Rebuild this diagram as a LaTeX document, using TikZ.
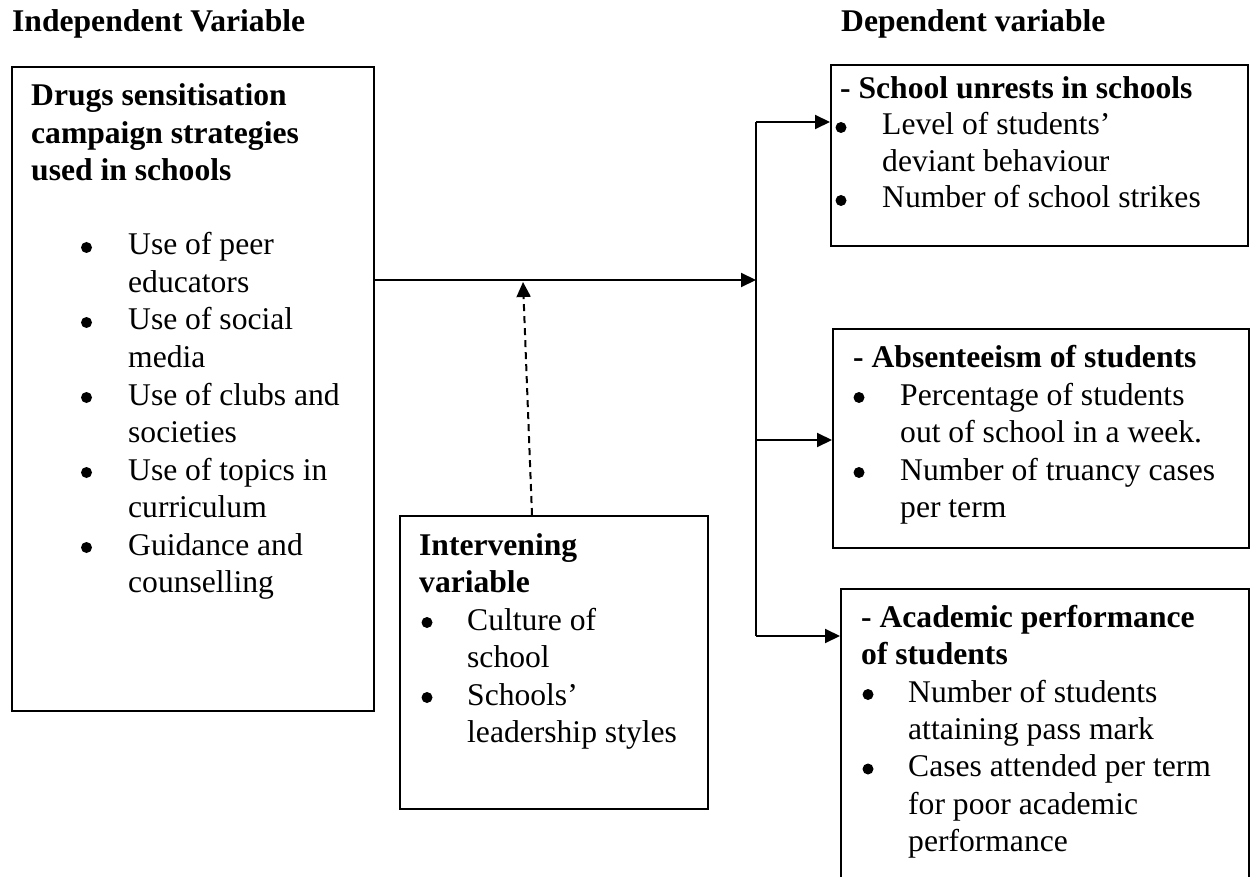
\documentclass[tikz,border=0pt]{standalone}
\usepackage{fontspec}
\setmainfont{Liberation Serif}
\usetikzlibrary{arrows.meta}
\tikzset{
  txt/.style={anchor=base west, inner sep=0pt, font=\fontsize{31.6}{37.5}\selectfont},
  btxt/.style={txt, font=\fontsize{31.6}{37.5}\selectfont\bfseries},
  bulc/.style={circle, fill=black, inner sep=0pt, minimum size=11pt},
  box/.style={draw, line width=2pt, anchor=north west, inner sep=0pt},
  conn/.style={line width=2pt},
  arr/.style={line width=2pt, -{Triangle[length=15pt,width=14pt]}},
  darr/.style={line width=2pt, dash pattern=on 7pt off 5pt, -{Triangle[length=15pt,width=14pt]}}
}
\begin{document}
\begin{tikzpicture}[x=1pt,y=-1pt]
\useasboundingbox (0,0) rectangle (1258,877);
% headings
\node[btxt] (hI) at (12,32) {Independent Variable};
\node[btxt] (hD) at (841,32) {Dependent variable};
% boxes
\node[box, minimum width=362pt, minimum height=644pt] (indep) at (11,66) {};
\node[box, minimum width=308pt, minimum height=293pt] (interv) at (399,515) {};
\node[box, minimum width=417pt, minimum height=181pt] (dep1) at (830,64) {};
\node[box, minimum width=416pt, minimum height=219pt] (dep2) at (832,328) {};
\node[box, minimum width=408pt, minimum height=300pt] (dep3) at (840,588) {};
% independent box text
\node[btxt] (i1) at (31,106) {Drugs sensitisation};
\node[btxt] (i2) at (31,143.5) {campaign strategies};
\node[btxt] (i3) at (31,181) {used in schools};
\node[bulc] (ib1) at (86.5,247.5) {};
\node[bulc] (ib2) at (86.5,322.5) {};
\node[bulc] (ib3) at (86.5,397.5) {};
\node[bulc] (ib4) at (86.5,472.5) {};
\node[bulc] (ib5) at (86.5,547.5) {};
\node[txt] (it1) at (128,255) {Use of peer};
\node[txt] (it2) at (128,292.5) {educators};
\node[txt] (it3) at (128,330) {Use of social};
\node[txt] (it4) at (128,367.5) {media};
\node[txt] (it5) at (128,405) {Use of clubs and};
\node[txt] (it6) at (128,442.5) {societies};
\node[txt] (it7) at (128,480) {Use of topics in};
\node[txt] (it8) at (128,517.5) {curriculum};
\node[txt] (it9) at (128,555) {Guidance and};
\node[txt] (it10) at (128,592.5) {counselling};
% intervening box text
\node[btxt] (v1) at (419,555) {Intervening};
\node[btxt] (v2) at (419,592.5) {variable};
\node[bulc] (vb1) at (427,622.5) {};
\node[bulc] (vb2) at (427,697.5) {};
\node[txt] (vt1) at (467,630) {Culture of};
\node[txt] (vt2) at (467,667.5) {school};
\node[txt] (vt3) at (467,705) {Schools’};
\node[txt] (vt4) at (467,742.5) {leadership styles};
% dependent 1
\node[btxt] (a1) at (840,99) {- School unrests in schools};
\node[bulc] (ab1) at (841,127.5) {};
\node[bulc] (ab2) at (841,200.5) {};
\node[txt] (at1) at (882,135) {Level of students’};
\node[txt] (at2) at (882,171.5) {deviant behaviour};
\node[txt] (at3) at (882,208) {Number of school strikes};
% dependent 2
\node[btxt] (b1) at (853,367) {- Absenteeism of students};
\node[bulc] (bb1) at (859,397.5) {};
\node[bulc] (bb2) at (859,472.5) {};
\node[txt] (bt1) at (900,405) {Percentage of students};
\node[txt] (bt2) at (900,442.5) {out of school in a week.};
\node[txt] (bt3) at (900,480) {Number of truancy cases};
\node[txt] (bt4) at (900,517.5) {per term};
% dependent 3
\node[btxt] (c1) at (861,627) {- Academic performance};
\node[btxt] (c2) at (861,664) {of students};
\node[bulc] (cb1) at (868,694.5) {};
\node[bulc] (cb2) at (868,769) {};
\node[txt] (ct1) at (908,702) {Number of students};
\node[txt] (ct2) at (908,739) {attaining pass mark};
\node[txt] (ct3) at (908,776.5) {Cases attended per term};
\node[txt] (ct4) at (908,814) {for poor academic};
\node[txt] (ct5) at (908,851) {performance};
% connectors
\coordinate (hub) at (756,280);
\coordinate (vtop) at (756,122);
\coordinate (vmid) at (756,440);
\coordinate (vbot) at (756,636);
\coordinate (ds) at (532,515);
\coordinate (de) at (523,282);
\draw[arr] (indep.east |- hub) -- (hub);
\draw[conn] (vtop) -- (vbot);
\draw[arr] (vtop) -- (dep1.west |- vtop);
\draw[arr] (vmid) -- (dep2.west |- vmid);
\draw[arr] (vbot) -- (dep3.west |- vbot);
\draw[darr] (ds) -- (de);
\end{tikzpicture}
\end{document}
